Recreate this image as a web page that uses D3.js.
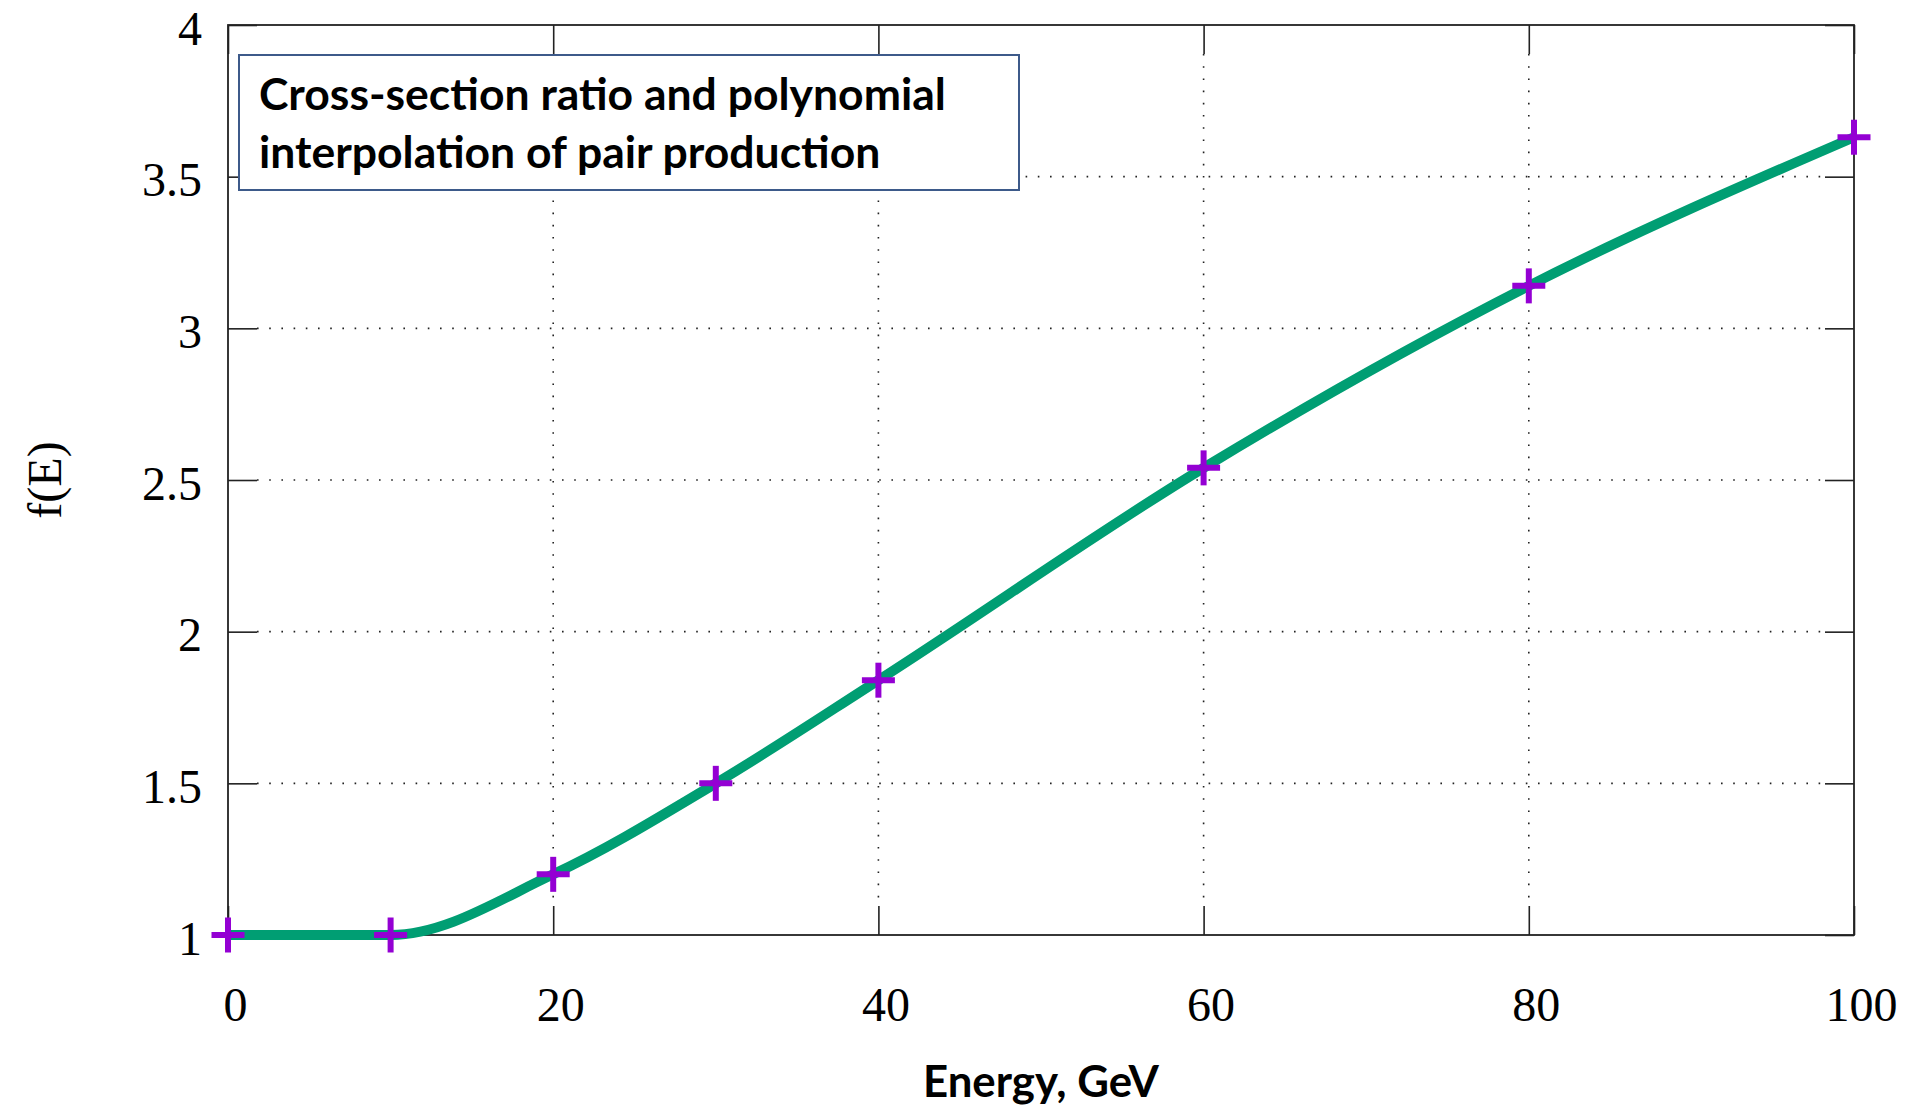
<!DOCTYPE html>
<html>
<head>
<meta charset="utf-8">
<script src="https://cdn.jsdelivr.net/npm/d3@7"></script>
<style>
  html, body { margin: 0; padding: 0; background: #fff; }
  svg { display: block; }
</style>
</head>
<body>
<svg id="chart" width="1907" height="1108"></svg>
<script>
// Energy samples (GeV) and the cross-section ratio f(E) at each
const energy = [0, 10, 20, 30, 40, 60, 80, 100];
const ratio  = [1.0, 1.0, 1.2, 1.5, 1.84, 2.54, 3.14, 3.63];

const xTicks = [0, 20, 40, 60, 80, 100];
const yTicks = [1, 1.5, 2, 2.5, 3, 3.5, 4];
const xTickLabels = ["0", "20", "40", "60", "80", "100"];
const yTickLabels = ["1", "1.5", "2", "2.5", "3", "3.5", "4"];

const titleLines = ["Cross-section ratio and polynomial", "interpolation of pair production"];
const xTitle = "Energy, GeV";
const yTitle = "f(E)";

const svg = d3.select("#chart");
const m = { left: 228, right: 1854, top: 25, bottom: 935 };

const x = d3.scaleLinear().domain([0, 100]).range([m.left, m.right]);
const y = d3.scaleLinear().domain([1, 4]).range([m.bottom, m.top]);

const serif = "'Liberation Serif', 'DejaVu Serif', serif";
const sans = "Lato, 'Open Sans', sans-serif";
const tickLen = 29;

// dotted grid
const grid = svg.append("g");
grid.selectAll("line.gx").data(xTicks.slice(1, -1)).join("line")
  .attr("x1", d => x(d)).attr("x2", d => x(d))
  .attr("y1", m.top + tickLen).attr("y2", m.bottom - tickLen)
  .attr("stroke", "#222").attr("stroke-width", 1.6)
  .attr("stroke-dasharray", "1.6,10.6");
grid.selectAll("line.gy").data(yTicks.slice(1, -1)).join("line")
  .attr("y1", d => y(d)).attr("y2", d => y(d))
  .attr("x1", m.left + tickLen).attr("x2", m.right - tickLen)
  .attr("stroke", "#222").attr("stroke-width", 1.6)
  .attr("stroke-dasharray", "1.6,10.6");

// axes with inward ticks on all four sides
const axisStyle = g => {
  g.select(".domain").remove();
  g.selectAll(".tick line").attr("stroke", "#222").attr("stroke-width", 1.6);
};
svg.append("g").attr("transform", `translate(0,${m.bottom})`)
  .call(d3.axisBottom(x).tickValues(xTicks).tickSize(-tickLen).tickPadding(52)
        .tickFormat((d, i) => xTickLabels[i]))
  .call(axisStyle)
  .call(g => g.selectAll("text").attr("font-family", serif).attr("font-size", 48)
        .attr("fill", "#000").attr("dx", 7));
svg.append("g").attr("transform", `translate(0,${m.top})`)
  .call(d3.axisTop(x).tickValues(xTicks).tickSize(-tickLen).tickFormat(""))
  .call(axisStyle);
svg.append("g").attr("transform", `translate(${m.left},0)`)
  .call(d3.axisLeft(y).tickValues(yTicks).tickSize(-tickLen).tickPadding(26)
        .tickFormat((d, i) => yTickLabels[i]))
  .call(axisStyle)
  .call(g => g.selectAll("text").attr("font-family", serif).attr("font-size", 48)
        .attr("fill", "#000").attr("dy", "0.40em"));
svg.append("g").attr("transform", `translate(${m.right},0)`)
  .call(d3.axisRight(y).tickValues(yTicks).tickSize(-tickLen).tickFormat(""))
  .call(axisStyle);

// frame
svg.append("rect")
  .attr("x", m.left).attr("y", m.top)
  .attr("width", m.right - m.left).attr("height", m.bottom - m.top)
  .attr("fill", "none").attr("stroke", "#222").attr("stroke-width", 1.8);

// interpolation curve
const pts = energy.map((e, i) => [e, ratio[i]]);
svg.append("path")
  .datum(pts)
  .attr("d", d3.line().x(d => x(d[0])).y(d => y(d[1])).curve(d3.curveMonotoneX))
  .attr("fill", "none").attr("stroke", "#009E73").attr("stroke-width", 10)
  .attr("stroke-linecap", "butt").attr("stroke-linejoin", "round");

// sample markers
const arm = 16.5;
const marks = svg.append("g").selectAll("g").data(pts).join("g")
  .attr("transform", d => `translate(${x(d[0])},${y(d[1])})`);
marks.append("line").attr("x1", -arm).attr("x2", arm)
  .attr("stroke", "#9400D3").attr("stroke-width", 6);
marks.append("line").attr("y1", -arm - 1).attr("y2", arm + 1)
  .attr("stroke", "#9400D3").attr("stroke-width", 6);

// title box
const box = { x: 239, y: 55, w: 780, h: 135 };
svg.append("rect")
  .attr("x", box.x).attr("y", box.y).attr("width", box.w).attr("height", box.h)
  .attr("fill", "#fff").attr("stroke", "#3D5A8A").attr("stroke-width", 2);
const tt = svg.append("g");
titleLines.forEach((line, i) => {
  tt.append("text")
    .attr("x", 259).attr("y", 110 + i * 58)
    .attr("font-family", sans).attr("font-weight", 700).attr("font-size", 42)
    .attr("fill", "#000").text(line);
});
{
  const w = tt.select("text").node().getComputedTextLength();
  tt.selectAll("text").attr("font-size", 42 * 687 / w);
}

// axis titles
const xt = svg.append("text")
  .attr("x", (m.left + m.right) / 2).attr("y", 1097)
  .attr("text-anchor", "middle")
  .attr("font-family", sans).attr("font-weight", 700).attr("font-size", 38)
  .attr("fill", "#000").text(xTitle);
{
  const w = xt.node().getComputedTextLength();
  xt.attr("font-size", 38 * 236 / w);
}
svg.append("text")
  .attr("transform", `translate(61,480) rotate(-90)`)
  .attr("text-anchor", "middle")
  .attr("font-family", serif).attr("font-size", 48)
  .attr("fill", "#000").text(yTitle);
</script>
</body>
</html>
